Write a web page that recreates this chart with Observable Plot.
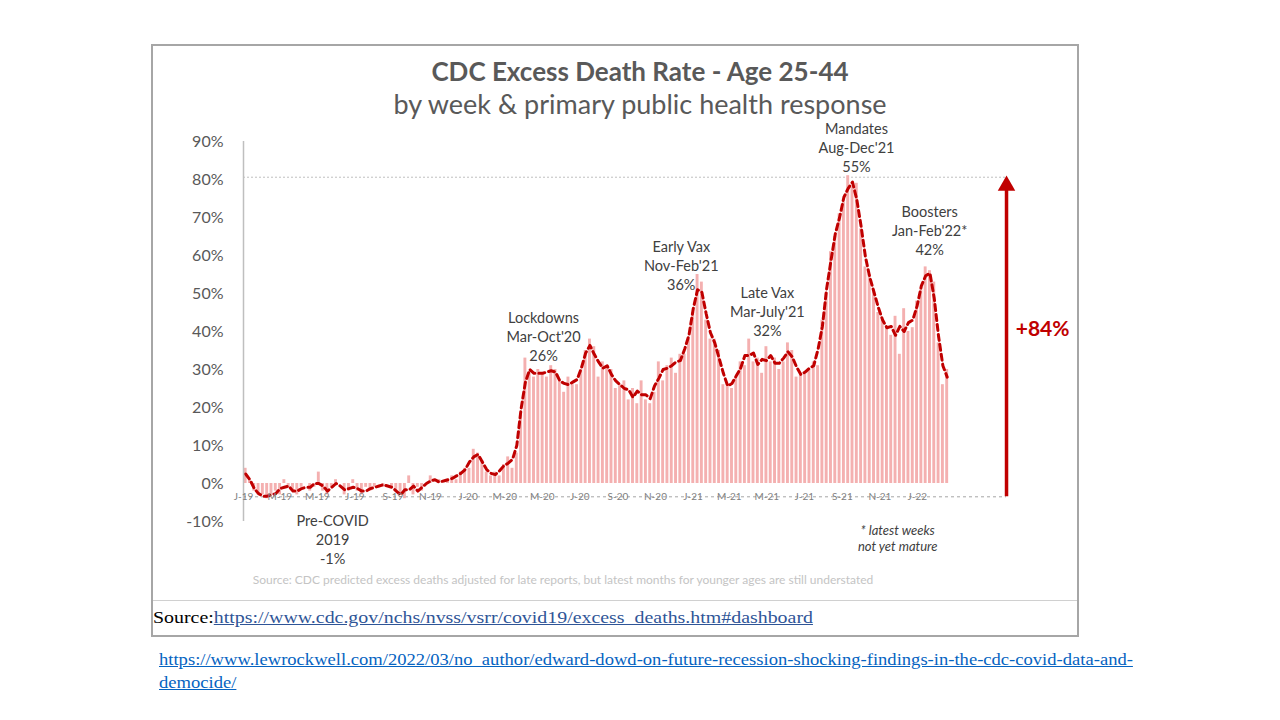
<!DOCTYPE html>
<html><head><meta charset="utf-8">
<script src="https://cdn.jsdelivr.net/npm/d3@7"></script>
<script src="https://cdn.jsdelivr.net/npm/@observablehq/plot@0.6"></script>
<style>
body{margin:0;background:#fff;width:1280px;height:720px;position:relative;overflow:hidden;font-family:Lato,sans-serif;}
#frame{position:absolute;left:151px;top:44px;width:924px;height:589px;border:2px solid #a6a6a6;}
#sep{position:absolute;left:153px;top:600px;width:924px;height:0;border-top:1px solid #d0d0d0;}
#title{position:absolute;left:0;width:1280px;top:58px;text-align:center;font-weight:bold;font-size:26px;line-height:26px;color:#595959;}
#subtitle{position:absolute;left:0;width:1280px;top:90px;text-align:center;font-size:27px;line-height:28px;color:#595959;}
#chart{position:absolute;left:153px;top:115px;}
#chart svg{overflow:visible;}
#note{position:absolute;left:203px;width:720px;top:572px;text-align:center;font-size:12px;color:#c4c4c4;}
#src{position:absolute;left:153px;top:608px;font-family:"Liberation Serif",serif;font-size:17px;color:#000;white-space:nowrap;transform:scaleX(1.17);transform-origin:0 0;}
#src span{color:#2f5597;text-decoration:underline;}
#url{position:absolute;left:159px;top:648px;font-family:"Liberation Serif",serif;font-size:16.5px;color:#0563c1;text-decoration:underline;line-height:23px;white-space:nowrap;transform:scaleX(1.126);transform-origin:0 0;}
</style></head><body>
<div id="frame"></div>
<div id="title">CDC Excess Death Rate - Age 25-44</div>
<div id="subtitle">by week &amp; primary public health response</div>
<div id="chart"></div>
<div id="note">Source: CDC predicted excess deaths adjusted for late reports, but latest months for younger ages are still understated</div>
<div id="sep"></div>
<div id="src">Source:<span>https://www.cdc.gov/nchs/nvss/vsrr/covid19/excess_deaths.htm#dashboard</span></div>
<div id="url">https://www.lewrockwell.com/2022/03/no_author/edward-dowd-on-future-recession-shocking-findings-in-the-cdc-covid-data-and-<br>democide/</div>
<script>
// Weekly excess death rate (%), age 25-44, weeks starting 2019-01-01
const firstWeek = "2019-01-01";
const excessPct = [
  4, 1, -2, -3, -3, -4, -3, -2, -3, 1, -1, -2, -3, -1, 0, -2, -1, 3, -2, -3,
  -1, 1, 0, -3, -2, 1, -2, -3, -1, -2, -1, 0, -1, 0, -1, -2, -3, -4, 2, -3,
  -1, -2, 0, 2, 0, 1, 0, 1, 2, 1, 3, 4,
  4, 9, 8, 6, 3, 2, 3, 2, 5, 7, 4, 8, 18, 33, 29, 28, 30, 29, 28, 31,
  30, 27, 24, 28, 26, 26, 30, 35, 38, 36, 28, 32, 31, 30, 25, 26, 27, 22, 25, 21,
  27, 22, 21, 24, 32, 27, 31, 33, 29, 34, 34, 38,
  45, 55, 53, 43, 38, 38, 35, 26, 26, 25, 28, 32, 31, 38, 32, 33, 29, 36, 32, 33,
  30, 32, 37, 35, 28, 29, 29, 30, 32, 31, 43, 50, 61, 65, 71, 74, 81, 78, 79, 67,
  57, 55, 51, 45, 43, 41, 39, 44, 34, 46, 40, 41, 48, 51, 57, 56, 53, 37, 26, 30
];
const yTicks = [-10, 0, 10, 20, 30, 40, 50, 60, 70, 80, 90];
const tickMonths = ["2019-01-01","2019-03-01","2019-05-01","2019-07-01","2019-09-01","2019-11-01",
  "2020-01-01","2020-03-01","2020-05-01","2020-07-01","2020-09-01","2020-11-01",
  "2021-01-01","2021-03-01","2021-05-01","2021-07-01","2021-09-01","2021-11-01","2022-01-01"];
const tickLabels = ["J-19","M-19","M-19","J-19","S-19","N-19","J-20","M-20","M-20","J-20","S-20","N-20",
  "J-21","M-21","M-21","J-21","S-21","N-21","J-22"];
// annotations
const phaseText = ["Mandates\nAug-Dec'21\n55%", "Boosters\nJan-Feb'22*\n42%", "Early Vax\nNov-Feb'21\n36%",
  "Late Vax\nMar-July'21\n32%", "Lockdowns\nMar-Oct'20\n26%", "Pre-COVID\n2019\n-1%"];
const phaseDate = ["2021-09-24", "2022-01-21", "2020-12-13", "2021-05-02", "2020-05-03", "2019-05-26"];
const phaseY = [88.7, 66.8, 57.4, 45.5, 38.9, -14.5];
const baselineLow = -3.5, peakHigh = 80.6, arrowDate = "2022-05-26", changeLabel = "+84%";
const footnote = "* latest weeks\nnot yet mature", footDate = "2021-11-30", footY = -14.2;

const parse = d3.utcParse("%Y-%m-%d");
const start = parse(firstWeek);
const weeks = excessPct.map((v, i) => ({
  start: d3.utcDay.offset(start, 7 * i),
  end: d3.utcDay.offset(start, 7 * i + 7),
  mid: d3.utcHour.offset(d3.utcDay.offset(start, 7 * i), 84),
  v
}));
const ticks = tickMonths.map((d, i) => ({date: parse(d), label: tickLabels[i]}));
const phases = phaseText.map((t, i) => ({text: t, date: parse(phaseDate[i]), y: phaseY[i]}));
const aDate = parse(arrowDate);

const chart = Plot.plot({
  width: 924, height: 455,
  marginLeft: 90, marginRight: 47, marginTop: 26, marginBottom: 49,
  x: {type: "utc", domain: [start, parse("2022-07-04")], axis: null},
  y: {domain: [-10, 90], axis: null},
  style: {fontFamily: "Lato, sans-serif", background: "transparent"},
  marks: [
    Plot.ruleY([peakHigh], {x1: start, x2: aDate, stroke: "#bfbfbf", strokeDasharray: "2,2"}),
    Plot.ruleY([baselineLow], {x1: start, x2: aDate, stroke: "#a6a6a6", strokeDasharray: "3,3"}),
    Plot.rectY(weeks, {x1: "start", x2: "end", y: "v", fill: "#f4b0b0", insetLeft: 0.7, insetRight: 0.7}),
    Plot.lineY(weeks, Plot.windowY({k: 3, anchor: "middle"}, {x: "mid", y: "v", stroke: "#c00000", strokeWidth: 3, strokeDasharray: "6,4"})),
    Plot.ruleX([start], {y1: -10, y2: 90, stroke: "#bfbfbf", strokeWidth: 1.5}),
    Plot.axisY({ticks: yTicks, tickFormat: d => d + "%", tickSize: 0, tickPadding: 20, fontSize: 16, fill: "#595959"}),
    Plot.text(ticks, {x: "date", y: baselineLow, text: "label", fontSize: 10, fill: "#808080"}),
    Plot.text(phases, {x: "date", y: "y", text: "text", fontSize: 14.5, fill: "#404040", lineHeight: 1.31}),
    Plot.text([footnote], {x: parse(footDate), y: footY, text: d => d, fontSize: 13, fontStyle: "italic", fill: "#404040", lineHeight: 1.25}),
    Plot.ruleX([aDate], {y1: baselineLow, y2: peakHigh - 3, stroke: "#c00000", strokeWidth: 3.5}),
    Plot.dot([aDate], {x: d => d, y: peakHigh - 2.2, symbol: "triangle", r: 6.5, fill: "#c00000", stroke: "none"}),
    Plot.text([changeLabel], {x: parse("2022-06-10"), y: 40.5, text: d => d, textAnchor: "start", fontSize: 21, fontWeight: "bold", fill: "#c00000"})
  ]
});
document.getElementById("chart").appendChild(chart);
</script>
</body></html>
